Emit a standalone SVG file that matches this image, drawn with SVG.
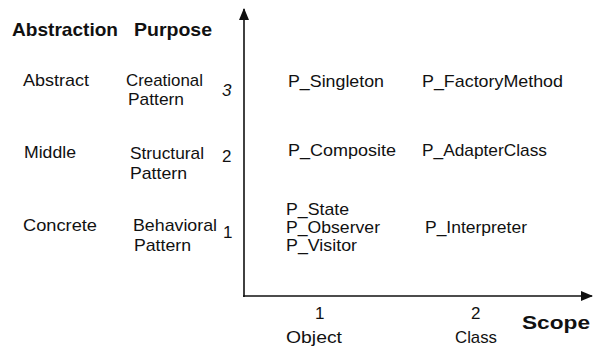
<svg xmlns="http://www.w3.org/2000/svg" width="602" height="350" viewBox="0 0 602 350">
<style>
text{font-family:"Liberation Sans",Arial,sans-serif;font-size:17px;fill:#111}
.h{font-weight:bold;font-size:19px}
.ax{stroke:#111;stroke-width:1.6;fill:none}
</style>
<defs>
<marker id="arr" viewBox="0 0 12 10" refX="11" refY="5" markerWidth="12" markerHeight="10" markerUnits="userSpaceOnUse" orient="auto">
<path d="M0,0 L12,5 L0,10 Z" fill="#111"/>
</marker>
</defs>
<rect width="602" height="350" fill="#fff"/>
<g id="connectors">
<line class="ax" x1="244" y1="297" x2="244" y2="9" marker-end="url(#arr)"/>
<line class="ax" x1="243" y1="296" x2="592" y2="296" marker-end="url(#arr)"/>
</g>
<g id="headers">
<text class="h" x="12" y="36" textLength="106" lengthAdjust="spacingAndGlyphs">Abstraction</text>
<text class="h" x="134" y="36" textLength="78" lengthAdjust="spacingAndGlyphs">Purpose</text>
<text class="h" x="522" y="329" textLength="68" lengthAdjust="spacingAndGlyphs">Scope</text>
</g>
<g id="row3">
<text x="23" y="86" textLength="66" lengthAdjust="spacingAndGlyphs">Abstract</text>
<text x="126" y="86" textLength="77" lengthAdjust="spacingAndGlyphs">Creational</text>
<text x="128" y="105" textLength="56" lengthAdjust="spacingAndGlyphs">Pattern</text>
<text x="222" y="96" font-style="italic">3</text>
</g>
<g id="row2">
<text x="24" y="158" textLength="52" lengthAdjust="spacingAndGlyphs">Middle</text>
<text x="130" y="159" textLength="74" lengthAdjust="spacingAndGlyphs">Structural</text>
<text x="130" y="179" textLength="57" lengthAdjust="spacingAndGlyphs">Pattern</text>
<text x="222" y="162">2</text>
</g>
<g id="row1">
<text x="23" y="231" textLength="74" lengthAdjust="spacingAndGlyphs">Concrete</text>
<text x="133" y="231" textLength="84" lengthAdjust="spacingAndGlyphs">Behavioral</text>
<text x="134" y="251" textLength="57" lengthAdjust="spacingAndGlyphs">Pattern</text>
<text x="223" y="238">1</text>
</g>
<g id="creational-patterns">
<text x="288" y="87" textLength="96" lengthAdjust="spacingAndGlyphs">P_Singleton</text>
<text x="422" y="87" textLength="141" lengthAdjust="spacingAndGlyphs">P_FactoryMethod</text>
</g>
<g id="structural-patterns">
<text x="288" y="156" textLength="108" lengthAdjust="spacingAndGlyphs">P_Composite</text>
<text x="422" y="156" textLength="125" lengthAdjust="spacingAndGlyphs">P_AdapterClass</text>
</g>
<g id="behavioral-patterns">
<text x="286" y="215" textLength="63" lengthAdjust="spacingAndGlyphs">P_State</text>
<text x="286" y="233" textLength="94" lengthAdjust="spacingAndGlyphs">P_Observer</text>
<text x="286" y="251" textLength="71" lengthAdjust="spacingAndGlyphs">P_Visitor</text>
<text x="425" y="233" textLength="102" lengthAdjust="spacingAndGlyphs">P_Interpreter</text>
</g>
<g id="scope-object">
<text x="315" y="319">1</text>
<text x="286" y="343" textLength="56" lengthAdjust="spacingAndGlyphs">Object</text>
</g>
<g id="scope-class">
<text x="471" y="319">2</text>
<text x="455" y="343" textLength="42" lengthAdjust="spacingAndGlyphs">Class</text>
</g>
</svg>
